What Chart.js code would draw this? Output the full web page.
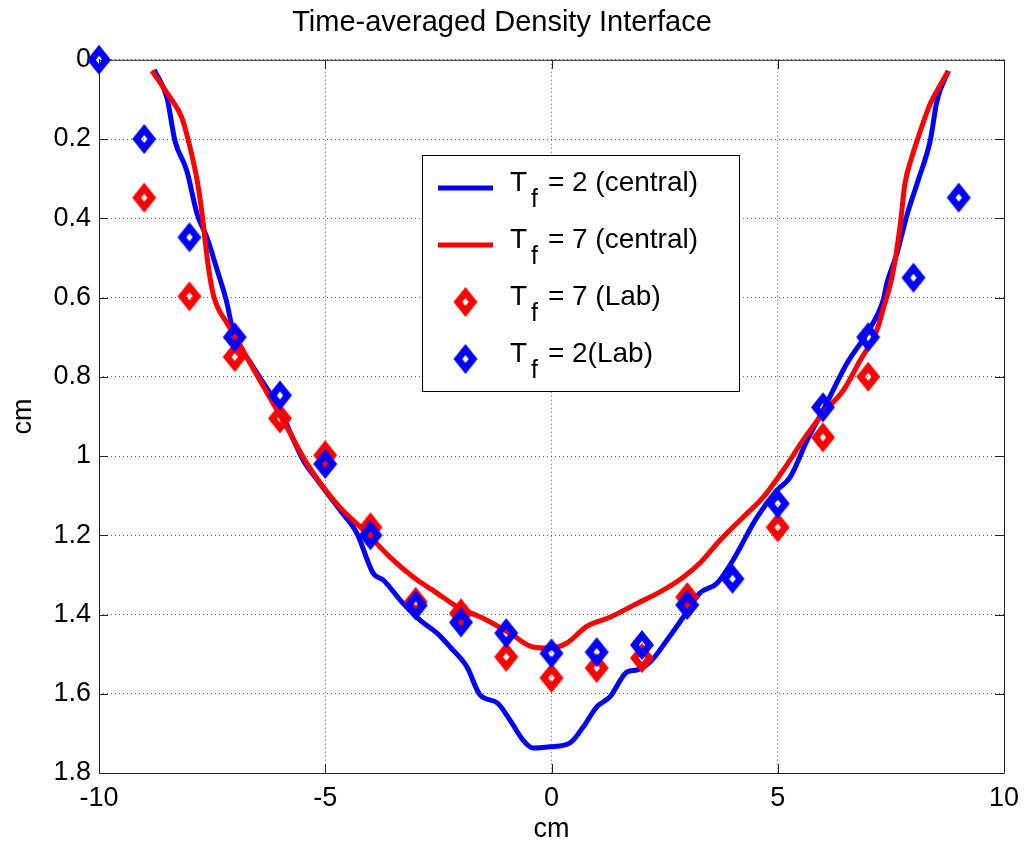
<!DOCTYPE html>
<html>
<head>
<meta charset="utf-8">
<script src="https://cdn.jsdelivr.net/npm/chart.js@4/dist/chart.umd.min.js"></script>
<style>
  html, body { margin: 0; padding: 0; background: #fff; }
  #wrap { width: 1024px; height: 848px; }
</style>
</head>
<body>
<div id="wrap"><canvas id="densityChart" width="1024" height="848"></canvas></div>
<script>
// Central model curves
const tf2CentralX = [-8.78, -8.5, -8.32, -8.06, -7.83, -7.61, -7.39, -7.17, -7.03, -6.66, -6.0, -5.49, -5.18, -4.67, -4.3, -3.94, -3.72, -3.28, -2.9, -2.53, -2.24, -1.87, -1.58, -1.2, -0.92, -0.63, -0.41, -0.03, 0.41, 0.7, 1.0, 1.29, 1.67, 1.89, 2.18, 2.55, 2.91, 3.28, 3.66, 4.01, 4.54, 4.98, 5.27, 5.65, 6.0, 6.53, 6.97, 7.33, 7.41, 7.63, 7.86, 8.1, 8.37, 8.52, 8.77];
const tf2CentralY = [0.025, 0.095, 0.205, 0.28, 0.39, 0.45, 0.53, 0.615, 0.69, 0.763, 0.885, 1.01, 1.06, 1.137, 1.195, 1.296, 1.313, 1.372, 1.415, 1.447, 1.482, 1.532, 1.603, 1.623, 1.666, 1.717, 1.737, 1.734, 1.724, 1.684, 1.633, 1.608, 1.545, 1.54, 1.52, 1.465, 1.407, 1.346, 1.321, 1.263, 1.155, 1.087, 1.054, 0.96, 0.885, 0.766, 0.69, 0.607, 0.565, 0.49, 0.39, 0.305, 0.204, 0.103, 0.028];

const tf7CentralX = [-8.83, -8.43, -8.17, -7.99, -7.83, -7.72, -7.61, -7.48, -7.17, -7.03, -6.66, -5.85, -5.41, -4.75, -4.08, -3.57, -3.05, -2.53, -2.09, -1.5, -0.92, -0.41, -0.03, 0.34, 0.78, 1.29, 1.89, 2.4, 2.91, 3.28, 3.72, 4.23, 4.68, 5.12, 5.56, 6.0, 6.45, 6.82, 7.19, 7.32, 7.54, 7.7, 7.81, 7.96, 8.1, 8.37, 8.52, 8.77];
const tf7CentralY = [0.028, 0.095, 0.146, 0.22, 0.305, 0.39, 0.5, 0.59, 0.665, 0.69, 0.766, 0.927, 1.018, 1.12, 1.195, 1.255, 1.306, 1.346, 1.38, 1.41, 1.447, 1.482, 1.485, 1.472, 1.43, 1.407, 1.372, 1.343, 1.306, 1.27, 1.213, 1.155, 1.104, 1.036, 0.96, 0.892, 0.834, 0.759, 0.683, 0.633, 0.54, 0.423, 0.313, 0.247, 0.197, 0.111, 0.078, 0.028];

// Lab measurements
const tf7LabX = [-9, -8, -7, -6, -5, -4, -3, -2, -1, 0, 1, 2, 3, 5, 6, 7];
const tf7LabY = [0.348, 0.597, 0.75, 0.905, 0.998, 1.18, 1.368, 1.397, 1.507, 1.56, 1.535, 1.51, 1.356, 1.18, 0.953, 0.80];

const tf2LabX = [-10, -9, -8, -7, -6, -5, -4, -3, -2, -1, 0, 1, 2, 3, 4, 5, 6, 7, 8, 9];
const tf2LabY = [0, 0.2, 0.448, 0.70, 0.847, 1.02, 1.2, 1.377, 1.42, 1.447, 1.498, 1.495, 1.477, 1.376, 1.31, 1.12, 0.877, 0.70, 0.55, 0.348];

// Axis ticks
const xTicks = [-10, -5, 0, 5, 10];
const yTicks = [0, 0.2, 0.4, 0.6, 0.8, 1, 1.2, 1.4, 1.6, 1.8];

const BLUE = '#0000ff';
const RED = '#ff0000';
const FONT = "'Liberation Sans', Arial, Helvetica, sans-serif";

function toPoints(xs, ys) {
  return xs.map((x, i) => ({x: x, y: ys[i]}));
}

// Thick hollow diamond like the MATLAB 'd' marker
function makeDiamond(color) {
  const c = document.createElement('canvas');
  c.width = 26;
  c.height = 32;
  const g = c.getContext('2d');
  g.fillStyle = color;
  g.beginPath();
  g.moveTo(13, 1); g.lineTo(25, 16); g.lineTo(13, 31); g.lineTo(1, 16);
  g.closePath();
  g.fill();
  g.globalCompositeOperation = 'destination-out';
  g.beginPath();
  g.moveTo(13, 12); g.lineTo(16.2, 16); g.lineTo(13, 20); g.lineTo(9.8, 16);
  g.closePath();
  g.fill();
  return c;
}
const blueDiamond = makeDiamond(BLUE);
const redDiamond = makeDiamond(RED);

/** Solid box around the axes with inward tick marks on all four sides */
const matlabFrame = {
  id: 'matlabFrame',
  beforeDatasetsDraw(chart) {
    const {ctx, chartArea: a, scales} = chart;
    const len = 9;
    ctx.save();
    ctx.strokeStyle = '#222';
    ctx.lineWidth = 1;
    ctx.beginPath();
    ctx.rect(a.left + 0.5, a.top + 0.5, a.right - a.left, a.bottom - a.top);
    scales.x.ticks.forEach(t => {
      const px = Math.round(scales.x.getPixelForValue(t.value)) + 0.5;
      ctx.moveTo(px, a.bottom); ctx.lineTo(px, a.bottom - len);
      ctx.moveTo(px, a.top); ctx.lineTo(px, a.top + len);
    });
    scales.y.ticks.forEach(t => {
      const py = Math.round(scales.y.getPixelForValue(t.value)) + 0.5;
      ctx.moveTo(a.left, py); ctx.lineTo(a.left + len, py);
      ctx.moveTo(a.right, py); ctx.lineTo(a.right - len, py);
    });
    ctx.stroke();
    ctx.restore();
  }
};

/** Legend box with T_f subscripts, drawn by hand since the stock legend has no subscripts */
const subscriptLegend = {
  id: 'subscriptLegend',
  afterDraw(chart, args, opts) {
    const ctx = chart.ctx;
    const box = opts.box;
    ctx.save();
    ctx.fillStyle = '#fff';
    ctx.fillRect(box.left, box.top, box.width, box.height);
    ctx.strokeStyle = '#000';
    ctx.lineWidth = 1;
    ctx.strokeRect(box.left + 0.5, box.top + 0.5, box.width, box.height);

    opts.order.forEach((dsIndex, row) => {
      const ds = chart.data.datasets[dsIndex];
      const y = box.top + opts.firstRow + row * opts.rowStep;
      const sx = box.left + opts.sampleLeft;
      if (ds.showLine) {
        ctx.strokeStyle = ds.borderColor;
        ctx.lineWidth = ds.borderWidth;
        ctx.beginPath();
        ctx.moveTo(sx, y); ctx.lineTo(sx + opts.sampleWidth, y);
        ctx.stroke();
      } else {
        const img = ds.pointStyle;
        ctx.drawImage(img, sx + opts.sampleWidth / 2 - img.width / 2, y - img.height / 2);
      }
      const parts = ds.label.split('_f');
      const tx = box.left + opts.textLeft;
      ctx.fillStyle = '#000';
      ctx.textBaseline = 'alphabetic';
      ctx.font = '28px ' + FONT;
      ctx.fillText(parts[0], tx, y + 3);
      const tw = ctx.measureText(parts[0]).width;
      ctx.font = '25px ' + FONT;
      ctx.fillText('f', tx + tw + 4, y + 19);
      ctx.font = '28px ' + FONT;
      ctx.fillText(parts[1], tx + tw + 13, y + 3);
    });
    ctx.restore();
  }
};

const tickFont = {family: FONT, size: 27};

new Chart(document.getElementById('densityChart'), {
  type: 'scatter',
  data: {
    datasets: [
      {
        label: 'T_f = 2 (central)',
        data: toPoints(tf2CentralX, tf2CentralY),
        showLine: true,
        borderColor: BLUE,
        borderWidth: 5,
        pointRadius: 0,
        cubicInterpolationMode: 'monotone',
        order: 3
      },
      {
        label: 'T_f = 7 (central)',
        data: toPoints(tf7CentralX, tf7CentralY),
        showLine: true,
        borderColor: RED,
        borderWidth: 5,
        pointRadius: 0,
        cubicInterpolationMode: 'monotone',
        order: 2
      },
      {
        label: 'T_f = 7 (Lab)',
        data: toPoints(tf7LabX, tf7LabY),
        showLine: false,
        pointStyle: redDiamond,
        pointRadius: 13,
        clip: false,
        order: 1
      },
      {
        label: 'T_f = 2(Lab)',
        data: toPoints(tf2LabX, tf2LabY),
        showLine: false,
        pointStyle: blueDiamond,
        pointRadius: 13,
        clip: false,
        order: 0
      }
    ]
  },
  options: {
    responsive: false,
    animation: false,
    layout: {padding: {left: 0, right: 20, top: 0, bottom: 0}},
    plugins: {
      legend: {display: false},
      tooltip: {enabled: false},
      title: {
        display: true,
        text: 'Time-averaged Density Interface',
        color: '#000',
        font: {family: FONT, size: 29, weight: 'normal'},
        padding: {top: 6, bottom: 19}
      },
      subscriptLegend: {
        box: {left: 422, top: 155, width: 317, height: 236},
        order: [0, 1, 2, 3],
        firstRow: 33,
        rowStep: 57,
        sampleLeft: 16,
        sampleWidth: 55,
        textLeft: 88
      }
    },
    scales: {
      x: {
        type: 'linear',
        min: -10,
        max: 10,
        afterBuildTicks: s => { s.ticks = xTicks.map(v => ({value: v})); },
        afterFit: s => { s.height = 75; s.paddingLeft = 0; s.paddingRight = 0; },
        ticks: {color: '#000', font: tickFont, padding: 9, maxRotation: 0},
        grid: {color: 'rgba(0,0,0,0.6)', lineWidth: 1, drawTicks: false},
        border: {display: false, dash: [1, 3]},
        title: {display: true, text: 'cm', color: '#000', font: tickFont, padding: {top: 0, bottom: 2}}
      },
      y: {
        type: 'linear',
        reverse: true,
        min: 0,
        max: 1.8,
        afterBuildTicks: s => { s.ticks = yTicks.map(v => ({value: v})); },
        afterFit: s => { s.width = 99; },
        ticks: {
          color: '#000',
          font: tickFont,
          padding: 8,
          callback: v => String(Number(v.toFixed(1)))
        },
        grid: {color: 'rgba(0,0,0,0.6)', lineWidth: 1, drawTicks: false},
        border: {display: false, dash: [1, 3]},
        title: {display: true, text: 'cm', color: '#000', font: tickFont, padding: {top: 7, bottom: 0}}
      }
    }
  },
  plugins: [matlabFrame, subscriptLegend]
});
</script>
</body>
</html>
